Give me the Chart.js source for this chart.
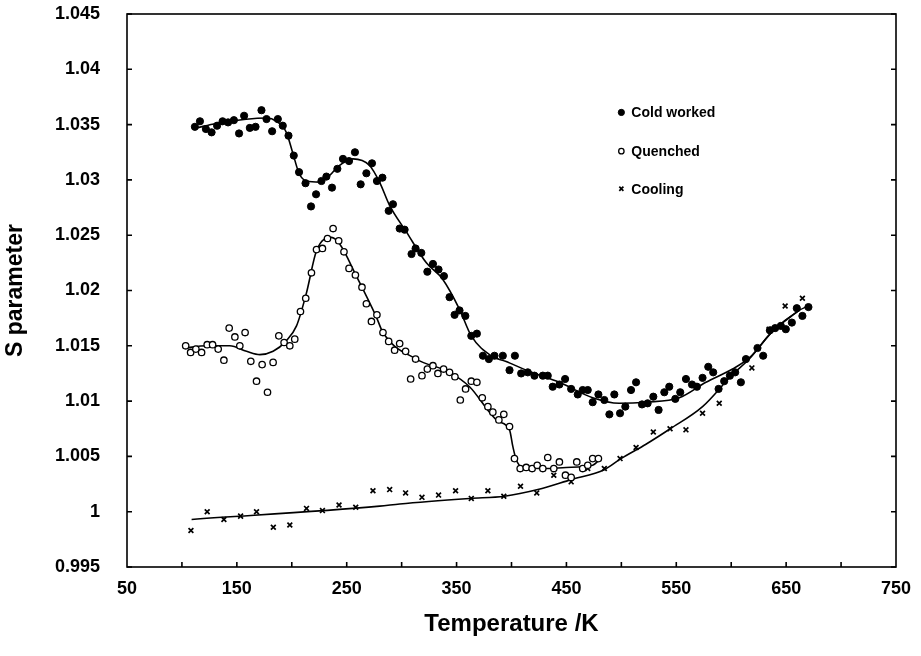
<!DOCTYPE html>
<html>
<head>
<meta charset="utf-8">
<script src="https://cdn.jsdelivr.net/npm/chart.js@4.4.0/dist/chart.umd.min.js"></script>
<style>
  html, body { margin: 0; padding: 0; background: #fff; }
</style>
</head>
<body>
<canvas id="chart" width="921" height="656"></canvas>
<script>
// axis ticks
const xTicks = [50, 150, 250, 350, 450, 550, 650, 750];
const xMinorTicks = [100, 150, 200, 250, 300, 350, 400, 450, 500, 550, 600, 650, 700];
const yTicks = [0.995, 1, 1.005, 1.01, 1.015, 1.02, 1.025, 1.03, 1.035, 1.04, 1.045];

// Cold worked (filled circles)
const coldT = [111.8, 116.4, 121.8, 127, 132, 137, 142, 147.3, 152, 156.6, 161.8, 167, 172.4, 177, 182.1, 187.3, 191.8, 197,
  201.8, 206.6, 212.5, 217.5, 222.1, 227, 231.5, 236.6, 241.5, 246.6, 252.1, 257.5, 262.7, 267.9, 273, 277.5, 282.5,
  288.2, 292.1, 298.2, 302.7, 309, 312.7, 317.9, 323.4, 328.5, 333.6, 338.5, 343.6, 348.2, 352.7, 358, 363.4, 368.5,
  374, 379.4, 384.5, 392.1, 398.2, 403.1, 408.8, 414.8, 420.9, 428.5, 433, 437.5, 443.6, 448.8, 454.3, 460.3, 464.8,
  469.4, 473.9, 479.1, 484.5, 489.1, 493.6, 498.8, 503.6, 508.8, 513.4, 518.8, 523.9, 529.1, 533.9, 539.1, 543.6,
  549.1, 553.6, 558.8, 564.3, 568.8, 573.9, 579.1, 583.6, 588.5, 593.6, 598.8, 603.6, 608.8, 613.4, 623.9, 629.1,
  635.2, 640, 645.2, 649.7, 655.2, 659.7, 664.8, 670.3];
const coldS = [1.0348, 1.0353, 1.0346, 1.0343, 1.0349, 1.0353, 1.0352, 1.0354, 1.0342, 1.0358, 1.0347, 1.0348, 1.0363, 1.0355, 1.0344, 1.0355, 1.0349, 1.0340,
  1.0322, 1.0307, 1.0297, 1.0276, 1.0287, 1.0299, 1.0303, 1.0293, 1.0310, 1.0319, 1.0317, 1.0325, 1.0296, 1.0306, 1.0315, 1.0299, 1.0302,
  1.0272, 1.0278, 1.0256, 1.0255, 1.0233, 1.0238, 1.0234, 1.0217, 1.0224, 1.0219, 1.0213, 1.0194, 1.0178, 1.0182, 1.0177, 1.0159, 1.0161,
  1.0141, 1.0138, 1.0141, 1.0141, 1.0128, 1.0141, 1.0125, 1.0126, 1.0123, 1.0123, 1.0123, 1.0113, 1.0115, 1.0120, 1.0111, 1.0106, 1.0110,
  1.0110, 1.0099, 1.0106, 1.0101, 1.0088, 1.0106, 1.0089, 1.0095, 1.0110, 1.0117, 1.0097, 1.0098, 1.0104, 1.0092, 1.0108, 1.0113,
  1.0102, 1.0108, 1.0120, 1.0115, 1.0113, 1.0121, 1.0131, 1.0126, 1.0111, 1.0118, 1.0123, 1.0126, 1.0117, 1.0138, 1.0148, 1.0141,
  1.0164, 1.0166, 1.0168, 1.0165, 1.0171, 1.0184, 1.0177, 1.0185];

// Quenched (open circles)
const quenchT = [103.4, 107.9, 112.7, 117.9, 123, 127.9, 133, 138.2, 143, 148.2, 152.7, 157.5, 162.7, 167.9, 173, 177.9, 183,
  188.2, 193, 198.2, 202.7, 207.9, 212.7, 217.9, 222.5, 227.9, 232.5, 237.6, 242.7, 247.5, 252.1, 257.9, 263.9, 267.9,
  272.5, 277.5, 283, 288.2, 293.6, 298.2, 303.6, 308.2, 312.7, 318.5, 323.4, 328.5, 333, 338.2, 343.6, 348.5, 353.4,
  358.2, 363.4, 368.5, 373.4, 378.5, 383, 388.5, 393, 398.2, 402.7, 407.9, 413.4, 418.8, 423.4, 428.5, 433, 438.5,
  443.6, 449.1, 454.3, 459.4, 464.8, 469.4, 473.9, 479.1];
const quenchS = [1.0150, 1.0144, 1.0147, 1.0144, 1.0151, 1.0151, 1.0147, 1.0137, 1.0166, 1.0158, 1.0150, 1.0162, 1.0136, 1.0118, 1.0133, 1.0108, 1.0135,
  1.0159, 1.0153, 1.0150, 1.0156, 1.0181, 1.0193, 1.0216, 1.0237, 1.0238, 1.0247, 1.0256, 1.0245, 1.0235, 1.0220, 1.0214, 1.0203, 1.0188,
  1.0172, 1.0178, 1.0162, 1.0154, 1.0146, 1.0152, 1.0145, 1.0120, 1.0138, 1.0123, 1.0129, 1.0132, 1.0125, 1.0129, 1.0126, 1.0122, 1.0101,
  1.0111, 1.0118, 1.0117, 1.0103, 1.0095, 1.0090, 1.0083, 1.0088, 1.0077, 1.0048, 1.0039, 1.0040, 1.0039, 1.0042, 1.0039, 1.0049, 1.0039,
  1.0045, 1.0033, 1.0031, 1.0045, 1.0039, 1.0042, 1.0048, 1.0048];

// Cooling (crosses)
const coolT = [108.2, 123, 138.2, 153.4, 167.9, 183.2, 198.2, 213.4, 227.9, 243, 258.2, 273.9, 289.1, 303.6, 318.5, 333.6,
  349.1, 363.4, 378.5, 393, 408.2, 423, 438.5, 454.3, 469.4, 484.5, 498.8, 513.4, 529.1, 544.3, 558.8, 573.9, 589.1,
  618.8, 634.5, 649.1, 664.8];
const coolS = [0.9983, 1.0000, 0.9993, 0.9996, 1.0000, 0.9986, 0.9988, 1.0003, 1.0001, 1.0006, 1.0004, 1.0019, 1.0020, 1.0017, 1.0013, 1.0015,
  1.0019, 1.0012, 1.0019, 1.0014, 1.0023, 1.0017, 1.0033, 1.0027, 1.0039, 1.0039, 1.0048, 1.0058, 1.0072, 1.0075, 1.0074, 1.0089, 1.0098,
  1.0130, 1.0165, 1.0186, 1.0193];

// fitted curves
const coldFitT = [113, 131.5, 177, 186, 195, 201, 206.6, 213.4, 225.5, 234.5, 242, 255.7, 270.8, 279.9, 289, 304.3, 322.5,
  337.5, 352.7, 363.4, 381.5, 394.5, 416, 443.6, 473.9, 498, 522.4, 552.7, 577, 601.2, 616.4, 637.6, 661.8, 670];
const coldFitS = [1.0347, 1.0351, 1.0356, 1.0353, 1.0343, 1.0324, 1.0306, 1.0299, 1.0298, 1.0304, 1.0312, 1.0319, 1.0313, 1.0298, 1.0277, 1.0253, 1.0225,
  1.0210, 1.0183, 1.0159, 1.0141, 1.0136, 1.0127, 1.0117, 1.0103, 1.0098, 1.0099, 1.0103, 1.0117, 1.0129, 1.0139, 1.0163, 1.0182, 1.0186];

const quenchFitT = [102.7, 122.5, 143.6, 158.8, 170.9, 183, 194.5, 204.3, 213.4, 222.5, 236.1, 243.6, 258.8, 277, 283,
  313.4, 343.6, 361.8, 387.5, 398.2, 401.2, 404.3, 410.3, 431.5, 449.7, 473.9, 480];
const quenchFitS = [1.0148, 1.0150, 1.0150, 1.0145, 1.0142, 1.0145, 1.0154, 1.0168, 1.0198, 1.0236, 1.0248, 1.0242, 1.0213, 1.0176, 1.0162,
  1.0138, 1.0126, 1.0113, 1.0082, 1.0074, 1.0059, 1.0047, 1.0040, 1.0039, 1.0040, 1.0042, 1.0047];

const coolFitT = [108.8, 280, 298.2, 361.8, 393.6, 424, 454.3, 484.5, 499.7, 522.4, 544.5, 573.9, 601.2, 616.4, 637.6, 661.8];
const coolFitS = [0.9993, 1.0005, 1.0007, 1.0012, 1.0014, 1.0020, 1.0029, 1.0038, 1.0048, 1.0061, 1.0075, 1.0095, 1.0124, 1.0138, 1.0163, 1.0182];

const labels = ['Cold worked', 'Quenched', 'Cooling'];

const toPoints = (xs, ys) => xs.map((x, i) => ({ x: x, y: ys[i] }));

const FONT = 'Liberation Sans, Arial, Helvetica, sans-serif';

const markerStyles = [
  { pointStyle: 'circle', radius: 3.6, borderWidth: 1, fill: '#000' },
  { pointStyle: 'circle', radius: 3.2, borderWidth: 1.3, fill: '#fff' },
  { pointStyle: 'crossRot', radius: 3.4, borderWidth: 1.7, fill: '#000' }
];

function scatterSet(label, xs, ys, m) {
  return {
    label: label,
    data: toPoints(xs, ys),
    showLine: false,
    pointStyle: m.pointStyle,
    pointRadius: m.radius,
    pointBorderWidth: m.borderWidth,
    pointBackgroundColor: m.fill,
    pointBorderColor: '#000',
    order: 1
  };
}

function fitSet(xs, ys) {
  return {
    label: 'fit',
    data: toPoints(xs, ys),
    showLine: true,
    borderColor: '#000',
    borderWidth: 1.6,
    pointRadius: 0,
    cubicInterpolationMode: 'monotone',
    fill: false,
    order: 2
  };
}

// frame with inward ticks
const framePlugin = {
  id: 'frame',
  afterDatasetsDraw(chart) {
    const { ctx, chartArea: a, scales } = chart;
    ctx.save();
    ctx.strokeStyle = '#000';
    ctx.lineWidth = 1.6;
    ctx.strokeRect(a.left, a.top, a.right - a.left, a.bottom - a.top);
    ctx.beginPath();
    yTicks.forEach(v => {
      const p = scales.y.getPixelForValue(v);
      ctx.moveTo(a.left, p); ctx.lineTo(a.left + 5, p);
      ctx.moveTo(a.right, p); ctx.lineTo(a.right - 5, p);
    });
    xMinorTicks.forEach(v => {
      const p = scales.x.getPixelForValue(v);
      ctx.moveTo(p, a.bottom); ctx.lineTo(p, a.bottom - 5);
    });
    ctx.stroke();
    ctx.restore();
  }
};

// legend inside the plot, rows placed at S values
const legendRows = [1.0361, 1.0326, 1.0292];
const legendPlugin = {
  id: 'innerLegend',
  afterDraw(chart) {
    const { ctx, scales } = chart;
    const x0 = scales.x.getPixelForValue(500);
    ctx.save();
    ctx.font = 'bold 14px ' + FONT;
    ctx.textBaseline = 'middle';
    labels.forEach((txt, i) => {
      const m = markerStyles[i];
      const yp = scales.y.getPixelForValue(legendRows[i]);
      ctx.fillStyle = m.fill;
      ctx.strokeStyle = '#000';
      ctx.lineWidth = m.borderWidth;
      Chart.helpers.drawPoint(ctx, { pointStyle: m.pointStyle, radius: m.radius - 0.5, borderWidth: m.borderWidth, rotation: 0 }, x0, yp);
      ctx.fillStyle = '#000';
      ctx.fillText(txt, x0 + 10, yp + 1);
    });
    ctx.restore();
  }
};

new Chart(document.getElementById('chart'), {
  type: 'scatter',
  data: {
    datasets: [
      scatterSet(labels[0], coldT, coldS, markerStyles[0]),
      scatterSet(labels[1], quenchT, quenchS, markerStyles[1]),
      scatterSet(labels[2], coolT, coolS, markerStyles[2]),
      fitSet(coldFitT, coldFitS),
      fitSet(quenchFitT, quenchFitS),
      fitSet(coolFitT, coolFitS)
    ]
  },
  options: {
    responsive: false,
    animation: false,
    devicePixelRatio: 1,
    layout: { padding: { top: 14, right: 25, left: 0, bottom: 0 } },
    plugins: {
      legend: { display: false },
      tooltip: { enabled: false }
    },
    scales: {
      x: {
        type: 'linear',
        min: 50,
        max: 750,
        afterBuildTicks: s => { s.ticks = xTicks.map(v => ({ value: v })); },
        afterFit: s => { s.height = 89; s.paddingLeft = 0; s.paddingRight = 0; },
        grid: { display: false, drawTicks: false },
        border: { display: false },
        ticks: {
          padding: 11,
          maxRotation: 0,
          color: '#000',
          font: { family: FONT, size: 18, weight: 'bold' }
        },
        title: {
          display: true,
          text: 'Temperature /K',
          color: '#000',
          padding: { top: 0, bottom: 17 },
          font: { family: FONT, size: 24, weight: 'bold' }
        }
      },
      y: {
        type: 'linear',
        min: 0.995,
        max: 1.045,
        afterBuildTicks: s => { s.ticks = yTicks.map(v => ({ value: v })); },
        afterFit: s => { s.width = 127; s.paddingTop = 0; s.paddingBottom = 0; },
        grid: { display: false, drawTicks: false },
        border: { display: false },
        ticks: {
          padding: 27,
          color: '#000',
          font: { family: FONT, size: 18, weight: 'bold' },
          callback: v => String(parseFloat(Number(v).toFixed(3)))
        },
        title: {
          display: true,
          text: 'S parameter',
          color: '#000',
          padding: { top: 2, bottom: 0 },
          font: { family: FONT, size: 23, weight: 'bold' }
        }
      }
    }
  },
  plugins: [framePlugin, legendPlugin]
});
</script>
</body>
</html>
